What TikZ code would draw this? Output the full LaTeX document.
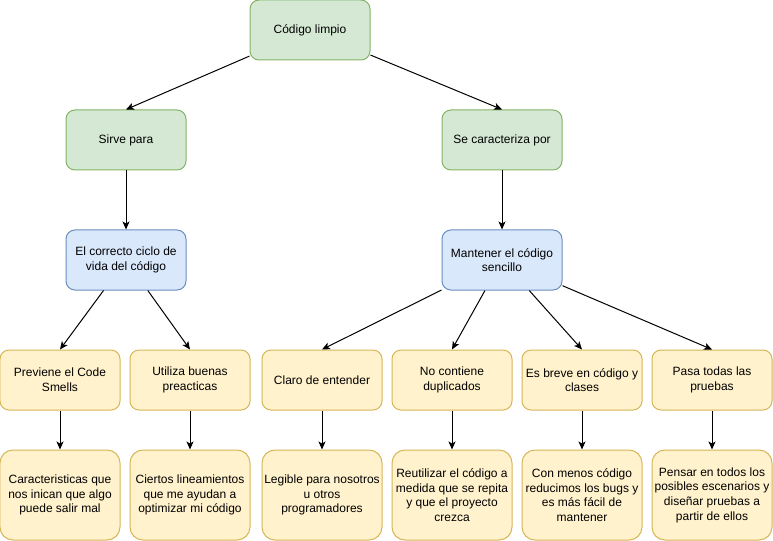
\documentclass[tikz,border=0pt]{standalone}
\usepackage{fontspec}
\setmainfont{Liberation Sans}
\usetikzlibrary{arrows.meta}
\definecolor{verdeF}{HTML}{D5E8D4}
\definecolor{verdeB}{HTML}{82B366}
\definecolor{azulF}{HTML}{DAE8FC}
\definecolor{azulB}{HTML}{6C8EBF}
\definecolor{amarF}{HTML}{FFF2CC}
\definecolor{amarB}{HTML}{D6B656}
\begin{document}
\begin{tikzpicture}[x=1bp,y=-1bp,
  caja/.style={rectangle,rounded corners=9bp,line width=1bp,minimum width=120bp,minimum height=60bp,
    align=center,inner sep=0pt,font=\fontsize{12bp}{14.6bp}\selectfont},
  verde/.style={caja,draw=verdeB,fill=verdeF},
  azul/.style={caja,draw=azulB,fill=azulF},
  amarilla/.style={caja,draw=amarB,fill=amarF},
  alta/.style={amarilla,minimum height=90bp,rounded corners=13bp},
  ->/.style={-{Stealth[length=8bp,width=7bp,inset=2bp]},line width=1bp}]
\useasboundingbox (0,0) rectangle (773,541);
\node[verde] (limpio) at (310,30) {Código limpio};
\node[verde] (sirve) at (126,140) {Sirve para};
\node[verde] (caracteriza) at (502,140) {Se caracteriza por};
\node[azul] (ciclo) at (126,260) {El correcto ciclo de\\vida del código};
\node[azul] (mantener) at (502,260) {Mantener el código\\sencillo};
\node[amarilla] (previene) at (60,380) {Previene el Code\\Smells};
\node[amarilla] (utiliza) at (190,380) {Utiliza buenas\\preacticas};
\node[amarilla] (claro) at (322,380) {Claro de entender};
\node[amarilla] (nodup) at (452,380) {No contiene\\duplicados};
\node[amarilla] (breve) at (582,380) {Es breve en código y\\clases};
\node[amarilla] (pasa) at (712,380) {Pasa todas las\\pruebas};
\node[alta] (caract) at (60,495) {Caracteristicas que\\nos inican que algo\\puede salir mal};
\node[alta] (ciertos) at (190,495) {Ciertos lineamientos\\que me ayudan a\\optimizar mi código};
\node[alta] (legible) at (322,495) {Legible para nosotros\\u otros\\programadores};
\node[alta] (reutilizar) at (452,495) {Reutilizar el código a\\medida que se repita\\y que el proyecto\\crezca};
\node[alta] (menos) at (582,495) {Con menos código\\reducimos los bugs y\\es más fácil de\\mantener};
\node[alta] (pensar) at (712,495) {Pensar en todos los\\posibles escenarios y\\diseñar pruebas a\\partir de ellos};
\draw[->] (limpio) -- (sirve.north);
\draw[->] (limpio) -- (caracteriza.north);
\draw[->] (sirve) -- (ciclo);
\draw[->] (caracteriza) -- (mantener);
\draw[->] (ciclo) -- (previene.north);
\draw[->] (ciclo) -- (utiliza.north);
\draw[->] (mantener) -- (claro.north);
\draw[->] (mantener) -- (nodup.north);
\draw[->] (mantener) -- (breve.north);
\draw[->] (mantener) -- (pasa.north);
\draw[->] (previene) -- (caract);
\draw[->] (utiliza) -- (ciertos);
\draw[->] (claro) -- (legible);
\draw[->] (nodup) -- (reutilizar);
\draw[->] (breve) -- (menos);
\draw[->] (pasa) -- (pensar);
\end{tikzpicture}
\end{document}
